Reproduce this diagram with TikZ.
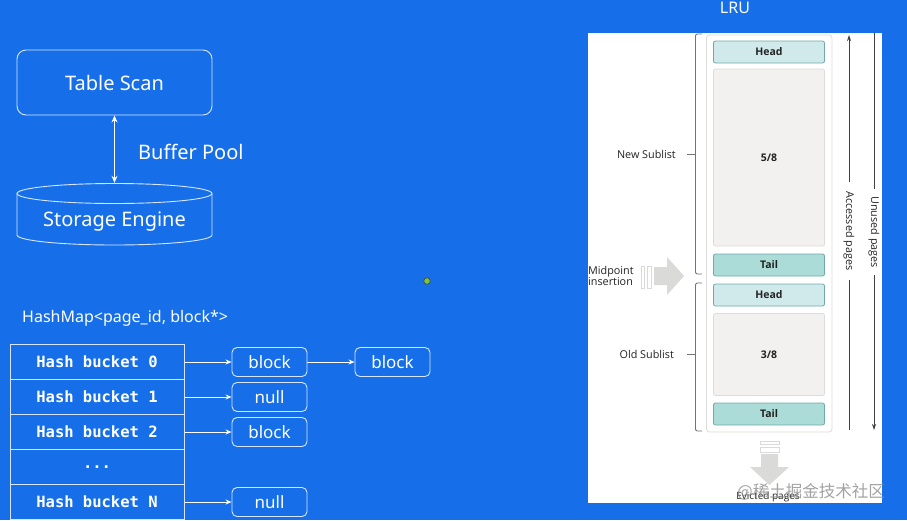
\documentclass[tikz,border=0pt]{standalone}
\usepackage{fontspec}
\setmainfont{Noto Sans}
\newfontfamily\lrufont{Open Sans}
\newfontfamily\monofont{DejaVu Sans Mono}
\newfontfamily\cjkfont{Noto Sans CJK SC}
\usetikzlibrary{arrows.meta,calc}
\definecolor{bg}{RGB}{22,111,232}
\definecolor{ln}{RGB}{214,230,255}
\definecolor{headfill}{RGB}{208,234,235}
\definecolor{headdraw}{RGB}{112,170,168}
\definecolor{tailfill}{RGB}{172,220,215}
\definecolor{bodyfill}{RGB}{243,241,240}
\definecolor{bodydraw}{RGB}{222,220,218}
\definecolor{arrgray}{RGB}{218,218,216}
\definecolor{txtdark}{RGB}{34,34,34}
\definecolor{dotgreen}{RGB}{120,200,60}
\tikzset{
  rbox/.style={draw=ln, line width=0.9pt, rounded corners=9pt, inner sep=0pt, text=white},
  bbox/.style={draw=ln, line width=0.9pt, rounded corners=5pt, inner sep=0pt, text=white,
    minimum width=75pt, minimum height=29pt, font=\fontsize{17}{20}\selectfont},
  hcell/.style={draw=ln, line width=1pt, inner sep=0pt, minimum width=174pt, minimum height=35pt,
    text=white, font=\monofont\bfseries\fontsize{15.5}{18}\selectfont},
  arr/.style={draw=white, line width=0.9pt, -{Stealth[length=6pt,width=5pt]}},
  lbox/.style={draw=headdraw, fill=headfill, line width=0.8pt, rounded corners=2pt, inner sep=0pt,
    minimum width=111pt, minimum height=22pt, text=txtdark, font=\lrufont\bfseries\fontsize{10.5}{12}\selectfont},
  tbox/.style={lbox, fill=tailfill},
  pbox/.style={lbox, fill=bodyfill, draw=bodydraw},
  ltxt/.style={text=txtdark, font=\lrufont\fontsize{10.8}{11.5}\selectfont, inner sep=0pt},
  brk/.style={draw=black!55, line width=0.9pt, rounded corners=2pt},
  garr/.style={fill=arrgray},
  gstripe/.style={draw=arrgray, line width=0.8pt},
}
\begin{document}
\begin{tikzpicture}[x=1pt,y=-1pt]
\fill[bg] (0,0) rectangle (907,520);
\useasboundingbox (0,0) rectangle (907,520);

% ---------- top-left ----------
\node[rbox, minimum width=195pt, minimum height=65pt, font=\fontsize{20}{24}\selectfont] (table) at (114.5,82.5) {Table Scan};
\node[inner sep=0pt, minimum width=195pt, minimum height=62pt] (storage) at (114.5,214) {};
\draw[ln, line width=0.9pt] (114.5,193.5) ellipse [x radius=97.5pt, y radius=10pt];
\draw[ln, line width=0.9pt] (17,193.5) -- (17,235) arc[start angle=180, end angle=360, x radius=97.5pt, y radius=10pt] -- (212,193.5);
\node[text=white, font=\fontsize{20}{24}\selectfont] (stxt) at (114.5,222) {Storage Engine};
\draw[white, line width=0.9pt, {Stealth[length=7pt,width=6pt]}-{Stealth[length=7pt,width=6pt]}] (table.south) -- (storage.north);
\node[anchor=west, text=white, font=\fontsize{20}{24}\selectfont, inner sep=0pt] (bp) at (138,152) {Buffer Pool};

% ---------- hash map ----------
\node[anchor=west, text=white, font=\fontsize{16}{19}\selectfont, inner sep=0pt] (hm) at (22,318) {HashMap<page\_id, block*>};
\node[hcell] (h0) at (97,362) {Hash bucket 0};
\node[hcell] (h1) at (97,397) {Hash bucket 1};
\node[hcell] (h2) at (97,432) {Hash bucket 2};
\node[hcell] (hd) at (97,467) {...};
\node[hcell] (hn) at (97,502) {Hash bucket N};

\node[bbox] (b0) at (269.5,362) {block};
\node[bbox] (b0b) at (392.5,362) {block};
\node[bbox] (n1) at (269.5,397) {null};
\node[bbox] (b2) at (269.5,432) {block};
\node[bbox] (nn) at (269.5,502) {null};
\draw[arr] (h0.east) -- (b0.west);
\draw[arr] (b0.east) -- (b0b.west);
\draw[arr] (h1.east) -- (n1.west);
\draw[arr] (h2.east) -- (b2.west);
\draw[arr] (hn.east) -- (nn.west);

% green dot
\fill[dotgreen, draw=black!70, line width=0.8pt] (427,281) circle (3.3pt);

% ---------- LRU ----------
\node[text=white, font=\fontsize{16}{19}\selectfont] (lru) at (735,8) {LRU};
\fill[white] (588,33) rectangle (882,503);
\draw[bodydraw, line width=0.8pt, rounded corners=3pt] (706.5,35) rectangle (832,432);

\node[lbox] (head1) at (769,52) {Head};
\node[pbox, minimum height=177pt] (body1) at (769,157.5) {5/8};
\node[tbox] (tail1) at (769,265) {Tail};
\node[lbox] (head2) at (769,295) {Head};
\node[pbox, minimum height=82pt] (body2) at (769,354.5) {3/8};
\node[tbox] (tail2) at (769,414) {Tail};

% brackets
\draw[brk] (702,34) -- (695.5,34) -- (695.5,274) -- (702,274);
\draw[brk] (695.5,154) -- (687,154);
\draw[brk] (702,283) -- (695.5,283) -- (695.5,431) -- (702,431);
\draw[brk] (695.5,354) -- (687,354);
\node[ltxt, anchor=east] (ns) at (676,154) {New Sublist};
\node[ltxt, anchor=east] (os) at (674,354) {Old Sublist};

% midpoint insertion
\node[ltxt, anchor=west, align=left] (mp) at (588,276) {Midpoint\\insertion};
\draw[gstripe] (641.5,266) rectangle (644,288);
\draw[gstripe] (647,266) rectangle (651,288);
\fill[garr] (654,267) -- (667,267) -- (667,257) -- (684,276) -- (667,295) -- (667,285) -- (654,285) -- cycle;

% evicted
\draw[gstripe] (760,441) rectangle (779,444);
\draw[gstripe] (760,447.5) rectangle (779,452);
\fill[garr] (761,454) -- (778,454) -- (778,467) -- (789,467) -- (769.5,485) -- (750,467) -- (761,467) -- cycle;
\node[ltxt, font=\lrufont\fontsize{10}{12}\selectfont] (ev) at (768,497) {Evicted pages};
\node[text=black!45, opacity=0.8, font=\cjkfont\fontsize{16.5}{20}\selectfont, inner sep=0pt] (wm) at (811,492) {@稀土掘金技术社区};

% accessed / unused
\coordinate (acctop) at (849,35);
\coordinate (accbot) at (849,430);
\draw[black!75, line width=0.8pt, -{Stealth[length=6pt,width=4pt]}] (accbot) -- (acctop);
\node[ltxt, rotate=-90, fill=white, inner xsep=10pt, inner ysep=2pt] (acc) at (849,231) {Accessed pages};
\coordinate (untop) at (874,33);
\coordinate (unbot) at (874,430);
\draw[black!75, line width=0.8pt, -{Stealth[length=6pt,width=4pt]}] (untop) -- (unbot);
\node[ltxt, rotate=-90, fill=white, inner xsep=7pt, inner ysep=2pt] (un) at (874,232) {Unused pages};
\end{tikzpicture}
\end{document}
